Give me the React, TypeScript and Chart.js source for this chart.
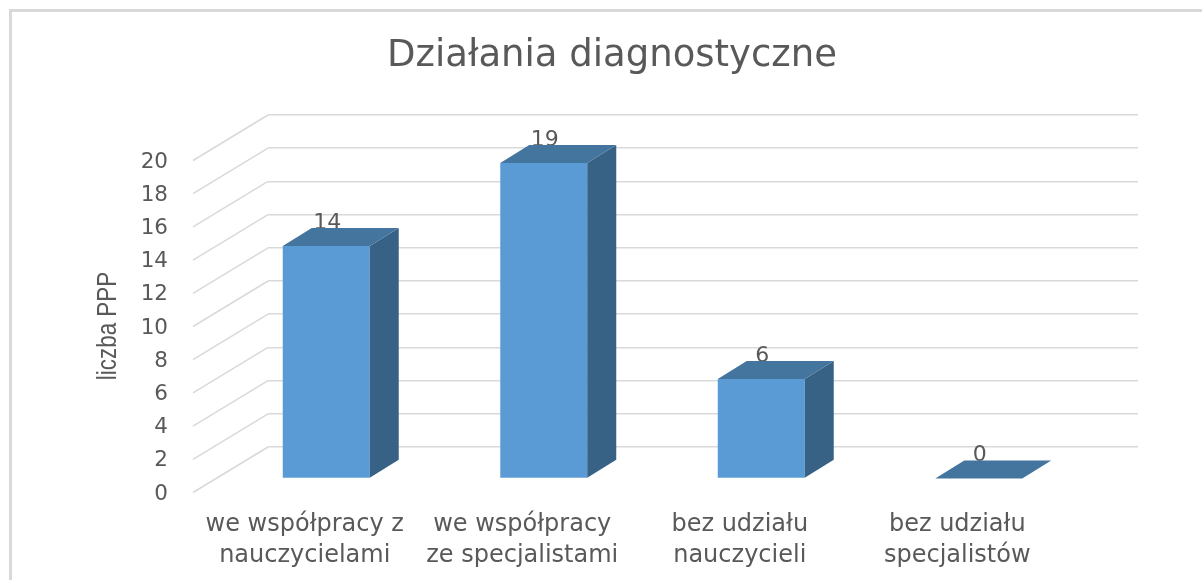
import React, { useEffect, useRef } from "react";
import { Chart, registerables } from "chart.js";

Chart.register(...registerables);

const chartTitle = "Działania diagnostyczne";
const yAxisTitle = "liczba PPP";
const categories = [
  ["we współpracy z", "nauczycielami"],
  ["we współpracy", "ze specjalistami"],
  ["bez udziału", "nauczycieli"],
  ["bez udziału", "specjalistów"],
];
const values = [14, 19, 6, 0];

const FONT = "'DejaVu Sans'";
const TEXT = "#595959";
const FRONT = "#5B9BD5";
const TOP = "#44759F";
const SIDE = "#376286";
const GRID = "#d9d9d9";

// 3D projection: the front plane sits this far from the back wall
const WALL_DX = -50.5;
const WALL_DY = 31.5;
const BAR_DX = 29;
const BAR_DY = -18;
const FLOOR_DX = -75;
const FLOOR_DY = 45.5;

const depthPlugin = {
  id: "depth",
  beforeDraw(chart: any) {
    const { ctx, scales } = chart;
    ctx.save();
    ctx.strokeStyle = GRID;
    ctx.lineWidth = 1.5;
    const left = chart.chartArea.left;
    for (const tick of scales.y.ticks) {
      const y = scales.y.getPixelForValue(tick.value);
      ctx.beginPath();
      ctx.moveTo(left, y);
      ctx.lineTo(left + FLOOR_DX, y + FLOOR_DY);
      ctx.stroke();
    }
    ctx.restore();
  },
  beforeDatasetsDraw(chart: any) {
    const { ctx } = chart;
    const bars = chart.getDatasetMeta(0).data;
    ctx.save();
    ctx.fillStyle = TEXT;
    ctx.font = `22px ${FONT}`;
    ctx.textAlign = "center";
    ctx.textBaseline = "middle";
    bars.forEach((bar: any, i: number) => {
      ctx.fillText(String(values[i]), bar.x + WALL_DX + 1, bar.y + WALL_DY - 23);
    });
    // axis title, centred on the front plane of the y axis
    ctx.translate(108, 326);
    ctx.rotate(-Math.PI / 2);
    ctx.scale(0.8, 1);
    ctx.font = "28px 'Liberation Sans'";
    ctx.fillText(yAxisTitle, 0, 0);
    ctx.restore();
    ctx.save();
    ctx.translate(WALL_DX, WALL_DY);
  },
  afterDatasetsDraw(chart: any) {
    const { ctx } = chart;
    const bars = chart.getDatasetMeta(0).data;
    bars.forEach((bar: any) => {
      const half = bar.width / 2;
      const l = bar.x - half;
      const r = bar.x + half;
      const t = bar.y;
      const b = bar.base;
      ctx.fillStyle = SIDE;
      ctx.beginPath();
      ctx.moveTo(r, t);
      ctx.lineTo(r + BAR_DX, t + BAR_DY);
      ctx.lineTo(r + BAR_DX, b + BAR_DY);
      ctx.lineTo(r, b);
      ctx.closePath();
      ctx.fill();
      ctx.fillStyle = TOP;
      ctx.beginPath();
      ctx.moveTo(l, t);
      ctx.lineTo(l + BAR_DX, t + BAR_DY);
      ctx.lineTo(r + BAR_DX, t + BAR_DY);
      ctx.lineTo(r, t);
      ctx.closePath();
      ctx.fill();
    });
    ctx.restore();
  },
};

export default function App() {
  const ref = useRef<HTMLCanvasElement>(null);
  useEffect(() => {
    const chart = new Chart(ref.current!, {
      type: "bar",
      data: {
        labels: categories,
        datasets: [
          {
            data: values,
            backgroundColor: FRONT,
            borderWidth: 0,
            barPercentage: 0.4,
            categoryPercentage: 1,
          },
        ],
      },
      options: {
        responsive: false,
        animation: false,
        layout: { padding: { left: 86, right: 64, top: 0, bottom: 0 } },
        plugins: {
          legend: { display: false },
          tooltip: { enabled: false },
          title: {
            display: true,
            text: chartTitle,
            color: TEXT,
            font: { family: FONT, size: 37, weight: "normal", lineHeight: 1.2 },
            padding: { top: 34.5, bottom: 36.1 },
          },
        },
        scales: {
          x: {
            type: "category",
            afterFit(scale: any) {
              scale.height = 133;
            },
            grid: { display: false, drawTicks: false },
            border: { display: false },
            ticks: {
              autoSkip: false,
              maxRotation: 0,
              minRotation: 0,
              padding: 62,
              labelOffset: -72,
              color: TEXT,
              font: { family: FONT, size: 24, lineHeight: 31 / 24 },
            },
          },
          y: {
            min: 0,
            max: 20,
            afterFit(scale: any) {
              scale.width = 182;
            },
            grid: { color: GRID, lineWidth: 1.5, drawTicks: false },
            border: { display: false },
            ticks: {
              stepSize: 2,
              padding: 100,
              labelOffset: 47,
              color: TEXT,
              font: { family: FONT, size: 21.5 },
            },
          },
        },
      },
      plugins: [depthPlugin],
    } as any);
    return () => chart.destroy();
  }, []);

  return (
    <div
      style={{
        position: "absolute",
        left: 0,
        top: 0,
        width: 1202,
        height: 580,
        overflow: "hidden",
        background: "#fff",
        filter: "blur(0.5px)",
      }}
    >
      <canvas ref={ref} width={1202} height={580} style={{ display: "block", width: 1202, height: 580 }} />
      <div
        style={{
          position: "absolute",
          left: 9,
          top: 9,
          width: 1300,
          height: 700,
          borderLeft: "3px solid #d9d9d9",
          borderTop: "3px solid #d9d9d9",
        }}
      />
    </div>
  );
}
